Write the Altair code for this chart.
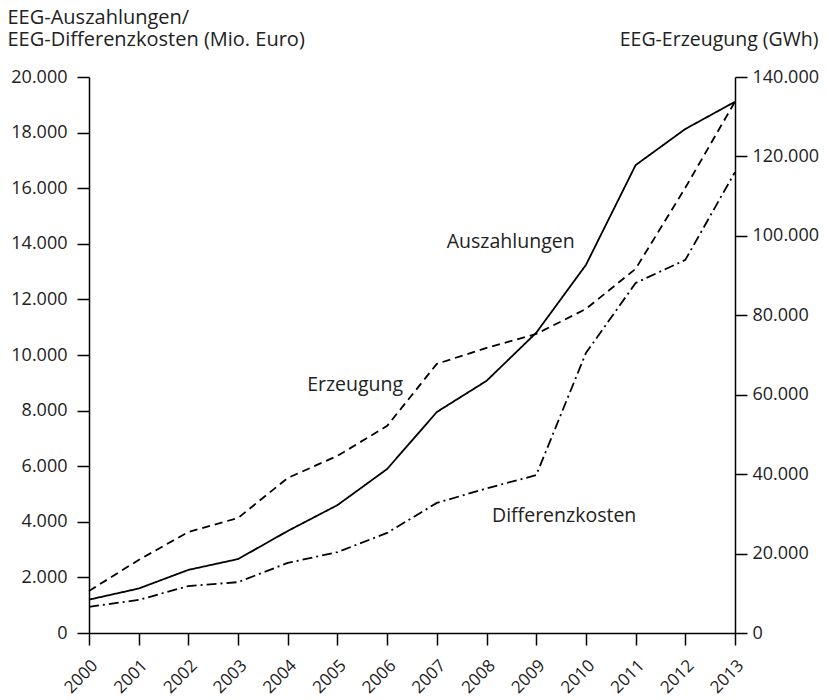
import altair as alt
import pandas as pd

FONT = "Open Sans"

years = list(range(2000, 2014))
auszahlungen = [1200, 1600, 2270, 2660, 3670, 4600, 5900, 7950, 9070, 10800, 13240, 16830, 18130, 19110]
differenzkosten = [940, 1190, 1690, 1830, 2520, 2910, 3600, 4680, 5200, 5680, 10070, 12590, 13420, 16580]
erzeugung = [10580, 18390, 25440, 28970, 39050, 44600, 52150, 67770, 71800, 75300, 81600, 91700, 112100, 133800]

left_ticks = list(range(0, 20001, 2000))
right_ticks = list(range(0, 140001, 20000))

label_texts = ["Auszahlungen", "Erzeugung", "Differenzkosten"]
label_years = [2007.2, 2004.39, 2008.11]
label_values = [13850, 8705, 3990]

left_df = pd.DataFrame({
    "year": years * 2,
    "value": auszahlungen + differenzkosten,
    "serie": ["Auszahlungen"] * len(years) + ["Differenzkosten"] * len(years),
})
right_df = pd.DataFrame({"year": years, "erzeugung": erzeugung})
labels_df = pd.DataFrame({"x": label_years, "y": label_values, "label": label_texts})

de_fmt = "replace(format(datum.value, ','), ',', '.')"

x_enc = alt.X(
    "year:Q",
    scale=alt.Scale(domain=[2000, 2013], nice=False, zero=False),
    axis=alt.Axis(values=years, format="d", labelAngle=-45, title=None,
                  labelPadding=12, labelFontSize=17),
)

left_lines = alt.Chart(left_df).mark_line(color="black", strokeWidth=1.8).encode(
    x=x_enc,
    y=alt.Y(
        "value:Q",
        scale=alt.Scale(domain=[0, 20000], nice=False),
        axis=alt.Axis(
            values=left_ticks, labelExpr=de_fmt, labelPadding=10,
            title=["EEG-Auszahlungen/", "EEG-Differenzkosten (Mio. Euro)"],
            titleAngle=0, titleAlign="left", titleBaseline="alphabetic",
            titleX=-82, titleY=-54, titleLineHeight=22, titleFontSize=20,
        ),
    ),
    strokeDash=alt.StrokeDash(
        "serie:N",
        scale=alt.Scale(domain=["Auszahlungen", "Differenzkosten"], range=[[1, 0], [10, 4, 2, 4]]),
        legend=None,
    ),
)

text_layer = alt.Chart(labels_df).mark_text(
    font=FONT, fontSize=19.5, align="left", baseline="alphabetic", color="#222222"
).encode(
    x=alt.X("x:Q"),
    y=alt.Y("y:Q"),
    text="label:N",
)

right_line = alt.Chart(right_df).mark_line(color="black", strokeWidth=1.8, strokeDash=[8, 5]).encode(
    x=x_enc,
    y=alt.Y(
        "erzeugung:Q",
        scale=alt.Scale(domain=[0, 140000], nice=False),
        axis=alt.Axis(
            orient="right", values=right_ticks, labelExpr=de_fmt, labelPadding=5,
            title="EEG-Erzeugung (GWh)", titleAngle=0, titleAlign="right",
            titleBaseline="alphabetic", titleX=83, titleY=-32,
        ),
    ),
)

chart = alt.layer(alt.layer(left_lines, text_layer), right_line).resolve_scale(
    y="independent"
).properties(
    width=646,
    height=556,
    autosize="none",
    padding={"left": 81, "top": 69, "right": 84, "bottom": 67},
    background="white",
).configure_view(stroke=None).configure_axis(
    grid=False,
    domainColor="black",
    domainWidth=1.5,
    tickColor="black",
    tickWidth=1.5,
    tickSize=12,
    labelFont=FONT,
    labelFontSize=18,
    labelColor="#222222",
    titleFont=FONT,
    titleFontSize=19.5,
    titleFontWeight="normal",
    titleColor="#222222",
)

chart.save("out.html", embed_options={"renderer": "svg", "actions": False})
